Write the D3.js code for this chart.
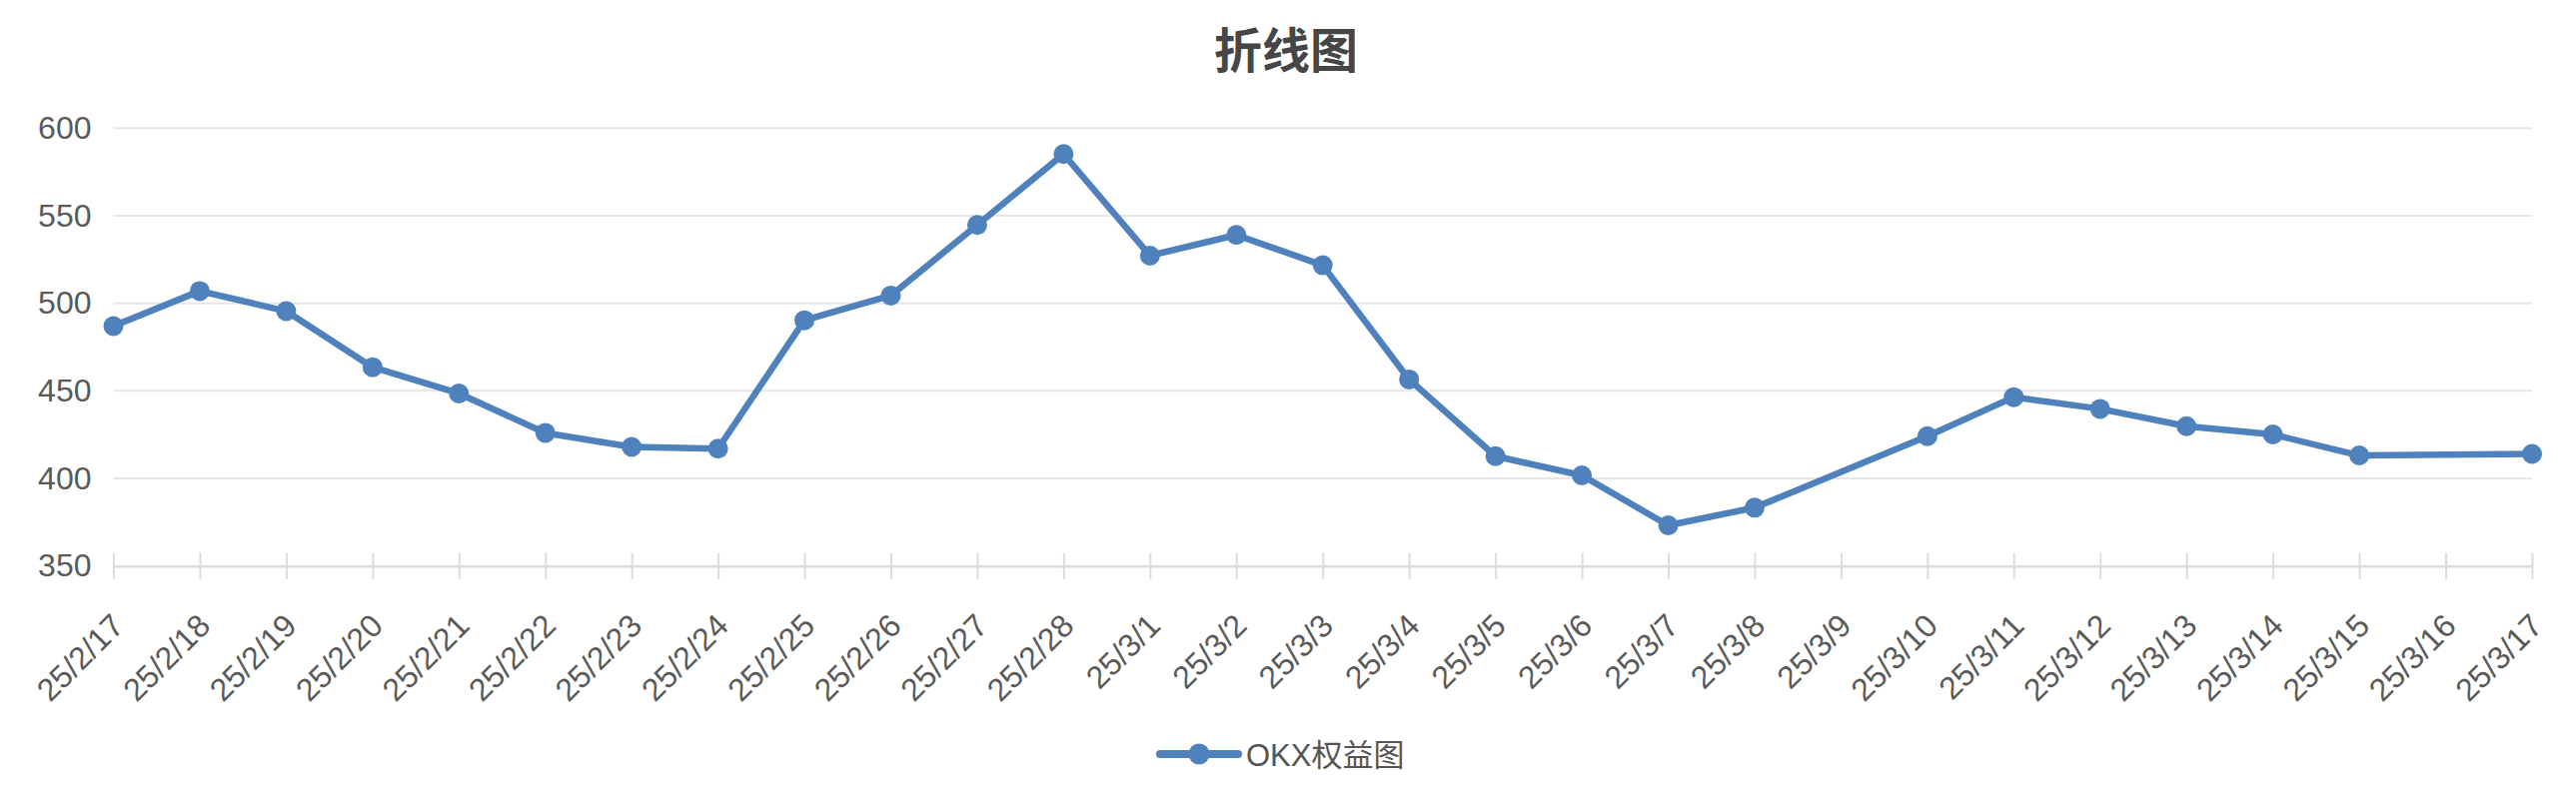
<!DOCTYPE html>
<html>
<head>
<meta charset="utf-8">
<script src="https://cdn.jsdelivr.net/npm/d3@7"></script>
<style>
	body { margin: 0; background: #fff; }
</style>
</head>
<body>
<div id="plot"></div>
<script>
var dates = ["25/2/17", "25/2/18", "25/2/19", "25/2/20", "25/2/21", "25/2/22", "25/2/23", "25/2/24",
	"25/2/25", "25/2/26", "25/2/27", "25/2/28", "25/3/1", "25/3/2", "25/3/3", "25/3/4", "25/3/5",
	"25/3/6", "25/3/7", "25/3/8", "25/3/9", "25/3/10", "25/3/11", "25/3/12", "25/3/13", "25/3/14",
	"25/3/15", "25/3/16", "25/3/17"];
// 3/9 and 3/16 have no value, the line just runs over them
var equity = [487, 507, 495.5, 463.5, 448.5, 426, 418, 417, 490.3, 504.4, 544.7, 585.2, 527.2, 539,
	521.7, 456.5, 412.7, 401.7, 373.2, 383.3, null, 424.1, 446.4, 439.7, 429.8, 425.1, 413.1, null, 414];
var yTicks = [350, 400, 450, 500, 550, 600];
var title = "折线图";
var seriesName = "OKX权益图";

function chart(){
	var width = 2578;
	var height = 796;
	var blue = "#4f81bd";
	var font = "'Liberation Sans', 'Noto Sans CJK SC', sans-serif";

	var svg = d3.select("#plot").append("svg")
		.attr("width", width)
		.attr("height", height)
		.style("font-family", font);

	svg.append("rect")
		.attr("width", width)
		.attr("height", height)
		.attr("fill", "#fff");

	var x = d3.scalePoint()
		.domain(dates)
		.range([113.5, 2534]);

	var y = d3.scaleLinear()
		.domain([350, 600])
		.range([566.7, 128.3]);

	// title
	svg.append("text")
		.attr("x", 1287)
		.attr("y", 47)
		.attr("text-anchor", "middle")
		.attr("dominant-baseline", "central")
		.attr("font-family", "'Noto Sans CJK SC', sans-serif")
		.attr("font-weight", "bold")
		.attr("font-size", 48)
		.attr("fill", "#464646")
		.text(title);

	// grid lines
	svg.append("g")
		.selectAll("line")
		.data(yTicks.filter(function(d) { return d > 350; }))
		.enter().append("line")
		.attr("x1", x.range()[0])
		.attr("x2", x.range()[1])
		.attr("y1", function(d) { return y(d); })
		.attr("y2", function(d) { return y(d); })
		.attr("stroke", "#e6e6e6")
		.attr("stroke-width", 2);

	// y axis labels
	var yAxis = d3.axisLeft(y)
		.tickValues(yTicks)
		.tickSize(0)
		.tickPadding(22);
	var gy = svg.append("g")
		.attr("transform", "translate(" + x.range()[0] + ",0)")
		.call(yAxis);
	gy.select(".domain").remove();
	gy.selectAll("text")
		.attr("font-family", font)
		.attr("font-size", 32)
		.attr("fill", "#5a5a5a");

	// x axis
	var xAxis = d3.axisBottom(x)
		.tickSize(13)
		.tickSizeOuter(0)
		.tickPadding(0);
	var gx = svg.append("g")
		.attr("transform", "translate(0," + y(350) + ")")
		.call(xAxis);
	gx.select(".domain")
		.attr("stroke", "#dcdcdc")
		.attr("stroke-width", 2.5);
	gx.selectAll(".tick line")
		.attr("y1", -13)
		.attr("y2", 13)
		.attr("stroke", "#dcdcdc")
		.attr("stroke-width", 2);
	gx.selectAll(".tick text")
		.attr("font-family", font)
		.attr("font-size", 32)
		.attr("fill", "#5a5a5a")
		.attr("text-anchor", "end")
		.attr("dominant-baseline", "central")
		.attr("dy", null)
		.attr("y", 0)
		.attr("transform", "translate(4,54) rotate(-45)");

	// series
	var points = dates.map(function(d, i) { return {date: d, value: equity[i]}; })
		.filter(function(d) { return d.value !== null; });

	var line = d3.line()
		.x(function(d) { return x(d.date); })
		.y(function(d) { return y(d.value); });

	svg.append("path")
		.datum(points)
		.attr("d", line)
		.attr("fill", "none")
		.attr("stroke", blue)
		.attr("stroke-width", 6.5)
		.attr("stroke-linejoin", "round");

	svg.append("g")
		.selectAll("circle")
		.data(points)
		.enter().append("circle")
		.attr("cx", function(d) { return x(d.date); })
		.attr("cy", function(d) { return y(d.value); })
		.attr("r", 10)
		.attr("fill", blue);

	// legend
	var legend = svg.append("g")
		.attr("transform", "translate(1161,755)");
	legend.append("line")
		.attr("x1", 0)
		.attr("x2", 78)
		.attr("stroke", blue)
		.attr("stroke-width", 8)
		.attr("stroke-linecap", "round");
	legend.append("circle")
		.attr("cx", 39)
		.attr("r", 10.5)
		.attr("fill", blue);
	legend.append("text")
		.attr("x", 86)
		.attr("y", 1)
		.attr("dominant-baseline", "central")
		.attr("font-size", 31)
		.attr("fill", "#555")
		.text(seriesName);
}

chart();
</script>
</body>
</html>
